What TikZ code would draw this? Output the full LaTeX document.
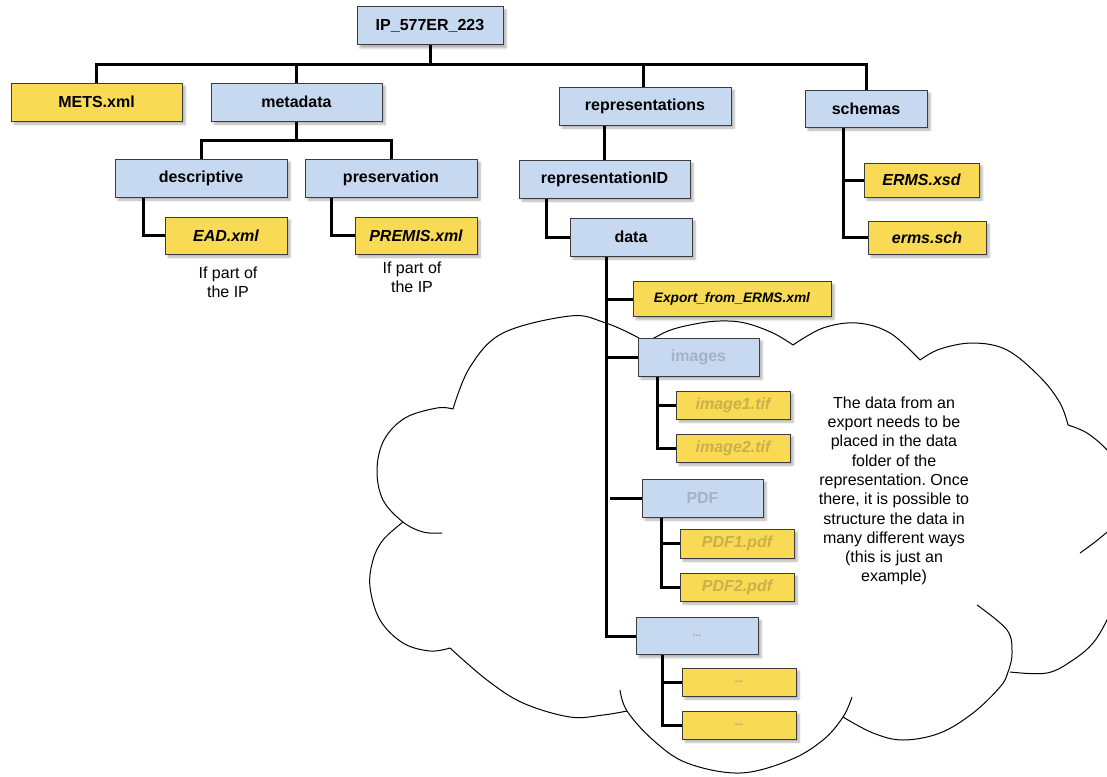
\documentclass[tikz,border=0pt]{standalone}
\usepackage{fontspec}
\setmainfont{Liberation Sans}
\frenchspacing
\usetikzlibrary{shadows.blur}
\definecolor{boxblue}{HTML}{C6D9F0}
\definecolor{boxyellow}{HTML}{F8DA54}
\definecolor{boxedge}{HTML}{3C3C3C}
\definecolor{fadeblue}{HTML}{A6B2C4}
\definecolor{fadeyellow}{HTML}{C9B04B}
\definecolor{dotgrey}{HTML}{9A9EA6}
\tikzset{
  box/.style={draw=boxedge, line width=1pt, inner sep=0pt,
    blur shadow={shadow xshift=3pt, shadow yshift=-3pt, shadow blur steps=6, shadow opacity=30}},
  folder/.style={box, fill=boxblue, font=\fontsize{16}{19}\selectfont\bfseries},
  file/.style={box, fill=boxyellow, font=\fontsize{16}{19}\selectfont\bfseries\itshape},
  plainfile/.style={box, fill=boxyellow, font=\fontsize{16}{19}\selectfont\bfseries},
  faded/.style={text=fadeblue},
  fadedfile/.style={text=fadeyellow},
  dotlabel/.style={text=dotgrey, font=\fontsize{10}{10}\selectfont\bfseries},
  link/.style={line width=3pt, black},
  cloudline/.style={line width=1pt, black},
  note/.style={align=center, font=\fontsize{16}{19.3}\selectfont, inner sep=0pt}
}
\begin{document}
\begin{tikzpicture}[x=1pt, y=-1pt]
\useasboundingbox (0,0) rectangle (1107,776);
% cloud
\begin{scope}
\clip (0,0) rectangle (1107,776);
\draw[cloudline] plot[smooth, tension=0.6] coordinates {(453,409) (470,367) (503,333) (570,316) (603,322) (637,337) (650,348)};
\draw[cloudline] plot[smooth, tension=0.6] coordinates {(642,345) (668,331) (695,324) (720,321) (745,323) (773,333) (793,345)};
\draw[cloudline] plot[smooth, tension=0.6] coordinates {(793,345) (823,328) (857,323) (890,333) (920,360)};
\draw[cloudline] plot[smooth, tension=0.6] coordinates {(920,360) (940,349) (973,343) (1007,350) (1040,377) (1060,403) (1068,425)};
\draw[cloudline] plot[smooth, tension=0.6] coordinates {(1068,425) (1087,433) (1107,450) (1120,470)};
\draw[cloudline] plot[smooth, tension=0.6] coordinates {(1080,553) (1095,542) (1112,528)};
\draw[cloudline] plot[smooth, tension=0.6] coordinates {(1115,600) (1107,620) (1093,643) (1073,660) (1047,673) (1010,672)};
\draw[cloudline] plot[smooth, tension=0.6] coordinates {(977,605) (1007,630) (1012,653) (1008,672) (1000,687) (973,713) (940,733) (903,740) (873,733) (843,717)};
\draw[cloudline] plot[smooth, tension=0.6] coordinates {(852,697) (843,717) (823,740) (790,760) (740,773) (687,763) (653,740) (627,711) (620,690)};
\draw[cloudline] plot[smooth, tension=0.6] coordinates {(627,711) (603,715) (570,717) (523,703) (487,680) (450,648)};
\draw[cloudline] plot[smooth, tension=0.6] coordinates {(450,648) (430,651) (403,643) (380,620) (370,587) (373,560) (383,540) (403,522)};
\draw[cloudline] plot[smooth, tension=0.6] coordinates {(442,533) (423,532) (403,522) (383,500) (377,470) (384,440) (405,418) (437,408) (453,409)};
\end{scope}
\node[note] (cloudtext) at (894,491) {The data from an\\export needs to be\\placed in the data\\folder of the\\representation. Once\\there, it is possible to\\structure the data in\\many different ways\\(this is just an\\example)};

% boxes
\node[folder, minimum width=146pt, minimum height=38pt] (ip) at (430,26) {IP\_577ER\_223};
\node[plainfile, minimum width=171pt, minimum height=38pt] (mets) at (96.5,102) {METS.xml};
\node[folder, minimum width=171pt, minimum height=38pt] (metadata) at (296.5,102) {metadata};
\node[folder, minimum width=172pt, minimum height=38pt] (descriptive) at (201,178) {descriptive};
\node[folder, minimum width=172pt, minimum height=38pt] (preservation) at (391,178) {preservation};
\node[file, minimum width=122pt, minimum height=37pt] (ead) at (226,235.5) {EAD.xml};
\node[file, minimum width=122pt, minimum height=37pt] (premis) at (416,235.5) {PREMIS.xml};
\node[note] (n1) at (228,282.5) {If part of\\the IP};
\node[note] (n2) at (412,277.5) {If part of\\the IP};
\node[folder, minimum width=172pt, minimum height=38pt] (representations) at (645,106) {representations};
\node[folder, minimum width=122pt, minimum height=37pt] (schemas) at (866,108.5) {schemas};
\node[folder, minimum width=171pt, minimum height=38pt] (repid) at (604.5,179) {representationID};
\node[folder, minimum width=122pt, minimum height=38pt] (data) at (631,237) {data};
\node[file, minimum width=115pt, minimum height=34pt] (ermsxsd) at (921.5,180) {ERMS.xsd};
\node[file, minimum width=118pt, minimum height=33pt] (ermssch) at (927,237.5) {erms.sch};
\node[file, minimum width=198pt, minimum height=35pt, font=\fontsize{13.7}{16}\selectfont\bfseries\itshape] (export) at (732,299) {Export\_from\_ERMS.xml};
\node[folder, faded, minimum width=121pt, minimum height=38pt] (images) at (698.5,357) {images};
\node[file, fadedfile, minimum width=114pt, minimum height=28pt] (img1) at (733,405) {image1.tif};
\node[file, fadedfile, minimum width=114pt, minimum height=28pt] (img2) at (733,448) {image2.tif};
\node[folder, faded, minimum width=121pt, minimum height=38pt] (pdf) at (702.5,498) {PDF};
\node[file, fadedfile, minimum width=114pt, minimum height=29pt] (pdf1) at (737,543.5) {PDF1.pdf};
\node[file, fadedfile, minimum width=114pt, minimum height=28pt] (pdf2) at (737,587) {PDF2.pdf};
\node[folder, minimum width=122pt, minimum height=37pt, dotlabel] (dots) at (697,636) {...};
\node[file, minimum width=114pt, minimum height=28pt, dotlabel] (dots1) at (739,682) {...};
\node[file, minimum width=114pt, minimum height=28pt, dotlabel] (dots2) at (739,725) {...};

% connectors
\coordinate (bus) at (0,64);
\coordinate (sub) at (0,140);
\draw[link] (mets.north) |- (bus -| schemas.north) -- (schemas.north);
\draw[link] (ip.south) -- (ip.south |- bus);
\draw[link] (metadata.north) -- (metadata.north |- bus);
\draw[link] ([xshift=-2pt]representations.north) -- ([xshift=-2pt]representations.north |- bus);
\draw[link] (metadata.south) -- (metadata.south |- sub);
\draw[link] (descriptive.north) |- (sub -| preservation.north) -- (preservation.north);
\draw[link] ([xshift=-58pt]descriptive.south) |- (ead.west);
\draw[link] ([xshift=-60pt]preservation.south) |- (premis.west);
\draw[link] (repid.north) -- (repid.north |- representations.south);
\draw[link] ([xshift=-58.5pt]repid.south) |- (data.west);
\draw[link] ([xshift=-23pt]schemas.south) |- (ermssch.west);
\draw[link] ([xshift=-23pt]schemas.south |- ermsxsd.west) -- (ermsxsd.west);
\draw[link] ([xshift=-25pt]data.south) |- (dots.west);
\draw[link] ([xshift=-25pt]data.south |- export.west) -- (export.west);
\draw[link] ([xshift=-25pt]data.south |- images.west) -- (images.west);
\draw[link] ([xshift=-21pt]data.south |- pdf.west) -- (pdf.west);
\draw[link] ([xshift=-41.5pt]images.south) |- (img2.west);
\draw[link] ([xshift=-41.5pt]images.south |- img1.west) -- (img1.west);
\draw[link] ([xshift=-41.5pt]pdf.south) |- (pdf2.west);
\draw[link] ([xshift=-41.5pt]pdf.south |- pdf1.west) -- (pdf1.west);
\draw[link] ([xshift=-35pt]dots.south) |- (dots2.west);
\draw[link] ([xshift=-35pt]dots.south |- dots1.west) -- (dots1.west);
\end{tikzpicture}
\end{document}
